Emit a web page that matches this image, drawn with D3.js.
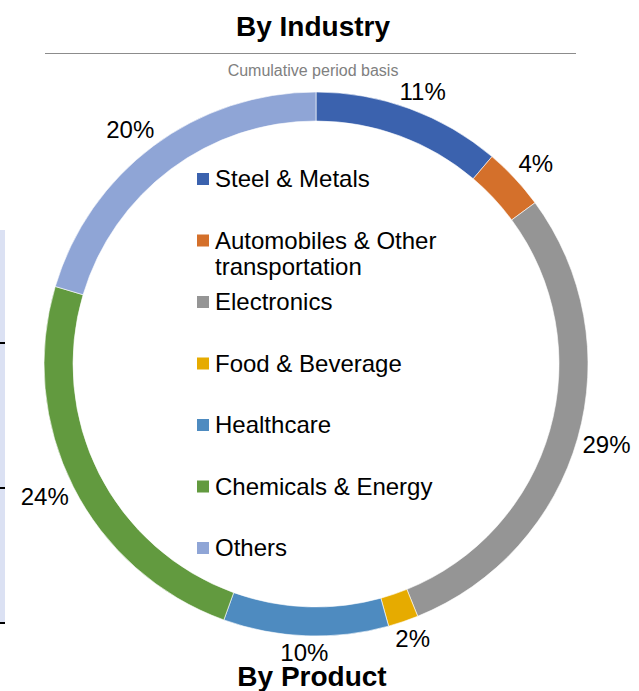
<!DOCTYPE html>
<html>
<head>
<meta charset="utf-8">
<script src="https://cdn.jsdelivr.net/npm/d3@7"></script>
<style>
  body { margin: 0; background: #fff; }
  svg { display: block; font-family: "Liberation Sans", Arial, sans-serif; }
</style>
</head>
<body>
<div id="chart"></div>
<script>
// Data (clockwise from 12 o'clock)
const industries = ['Steel & Metals', 'Automobiles & Other transportation', 'Electronics',
  'Food & Beverage', 'Healthcare', 'Chemicals & Energy', 'Others'];
const shares = [11.2, 3.7, 29.0, 1.8, 9.8, 24.1, 20.4];
const colours = ['#3b62ae', '#d4702b', '#959595', '#e6ab00', '#4e8bc0', '#629a3f', '#8fa5d6'];
// legend rows, long names broken the same way as the picture
const legendLines = [['Steel & Metals'], ['Automobiles & Other', 'transportation'], ['Electronics'],
  ['Food & Beverage'], ['Healthcare'], ['Chemicals & Energy'], ['Others']];

class DonutChart {
  constructor(_config) {
    this.config = {
      parentElement: _config.parentElement,
      width: _config.width || 639,
      height: _config.height || 691
    };
    this.initVis();
  }

  cx = 316;
  cy = 364;
  outerR = 272;
  innerR = 243;

  initVis() {
    const vis = this;

    vis.svg = d3.select(vis.config.parentElement).append('svg')
      .attr('width', vis.config.width)
      .attr('height', vis.config.height);

    // bit of the neighbouring panel showing at the left edge
    const side = vis.svg.append('g');
    side.append('rect')
      .attr('x', 0).attr('y', 230).attr('width', 5).attr('height', 393)
      .attr('fill', '#dbe1f3');
    [343, 488, 623].forEach(y => {
      side.append('line')
        .attr('x1', 0).attr('x2', 5).attr('y1', y).attr('y2', y)
        .attr('stroke', '#000').attr('stroke-width', 2);
    });

    // Titles
    vis.svg.append('text')
      .attr('x', 313).attr('y', 36)
      .attr('text-anchor', 'middle')
      .attr('font-size', 28).attr('font-weight', 'bold')
      .text('By Industry');

    vis.svg.append('line')
      .attr('x1', 45).attr('x2', 576).attr('y1', 53.5).attr('y2', 53.5)
      .attr('stroke', '#8c8c8c').attr('stroke-width', 1.2);

    vis.svg.append('text')
      .attr('x', 313).attr('y', 76)
      .attr('text-anchor', 'middle')
      .attr('font-size', 16).attr('fill', '#808080')
      .text('Cumulative period basis');

    vis.chart = vis.svg.append('g')
      .attr('transform', `translate(${vis.cx}, ${vis.cy})`);

    vis.pie = d3.pie().sort(null).value(d => d.share);
    vis.arc = d3.arc().innerRadius(vis.innerR).outerRadius(vis.outerR);
    vis.colour = d3.scaleOrdinal().domain(industries).range(colours);

    vis.renderVis();
  }

  renderVis() {
    const vis = this;
    const data = industries.map((name, i) => ({name: name, share: shares[i]}));
    const total = d3.sum(shares);
    const arcs = vis.pie(data);

    vis.chart.selectAll('.slice').data(arcs)
      .enter().append('path')
      .attr('class', 'slice')
      .attr('d', vis.arc)
      .attr('fill', d => vis.colour(d.data.name))
      .attr('stroke', '#fff')
      .attr('stroke-width', 0.6);

    // Percent labels sit just outside the ring, pushed out by their box
    const fmt = d3.format('.0f');
    const gap = 5, boxH = 24;
    const push = v => Math.max(-1, Math.min(1, v * 1.4));
    vis.chart.selectAll('.pct').data(arcs)
      .enter().append('text')
      .attr('class', 'pct')
      .attr('font-size', 24)
      .attr('text-anchor', 'middle')
      .attr('dominant-baseline', 'central')
      .text(d => fmt(d.data.share / total * 100) + '%')
      .each(function(d) {
        const a = (d.startAngle + d.endAngle) / 2;
        const w = this.getComputedTextLength();
        const r = vis.outerR + gap;
        const x = Math.sin(a) * r + push(Math.sin(a)) * w / 2;
        const y = -Math.cos(a) * r - push(Math.cos(a)) * boxH / 2;
        d3.select(this).attr('x', x).attr('y', y);
      });

    // Legend inside the hole
    const rowY = d3.scalePoint().domain(industries).range([173, 542]);
    const legend = vis.svg.selectAll('.legend-row').data(industries)
      .enter().append('g')
      .attr('class', 'legend-row')
      .attr('transform', d => `translate(197, ${rowY(d)})`);

    legend.append('rect')
      .attr('width', 12).attr('height', 12)
      .attr('fill', d => vis.colour(d));

    legend.append('text')
      .attr('x', 18).attr('y', 14)
      .attr('font-size', 24)
      .selectAll('tspan').data((d, i) => legendLines[i])
      .enter().append('tspan')
      .attr('x', 18)
      .attr('dy', (d, i) => i === 0 ? 0 : 26)
      .text(d => d);

    vis.svg.append('text')
      .attr('x', 312).attr('y', 686)
      .attr('text-anchor', 'middle')
      .attr('font-size', 28).attr('font-weight', 'bold')
      .text('By Product');
  }
}

const chart = new DonutChart({parentElement: '#chart'});
</script>
</body>
</html>
